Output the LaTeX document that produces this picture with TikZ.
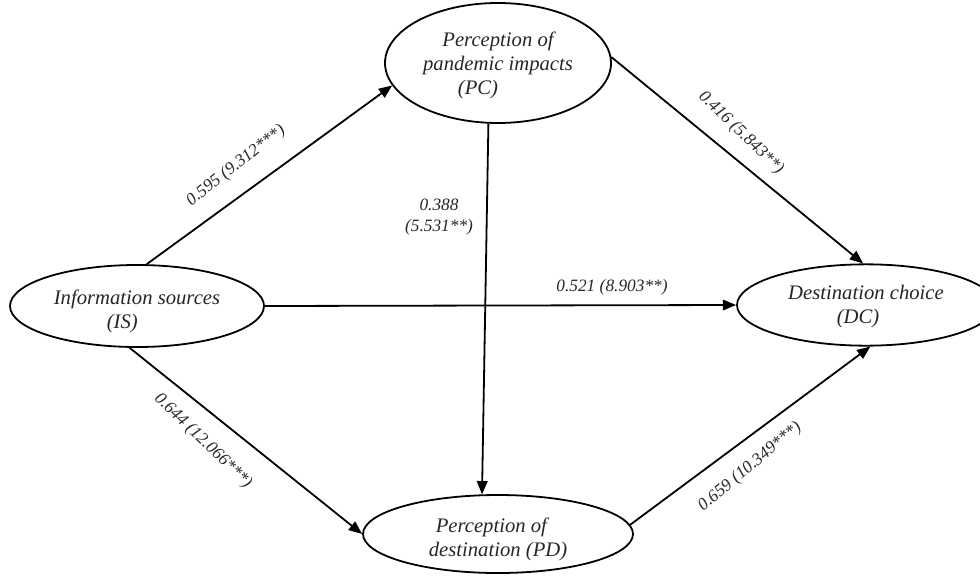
\documentclass[tikz,border=0pt]{standalone}
\usepackage{fontspec}
\setmainfont{Liberation Serif}
\usetikzlibrary{shapes.geometric,arrows.meta}
\begin{document}
\begin{tikzpicture}[x=0.75pt,y=-0.75pt,
  var/.style={draw, ellipse, line width=1.35pt, inner sep=0pt},
  vtext/.style={font=\fontsize{15.5}{18}\selectfont\itshape, align=center, text=black!85, inner sep=0pt},
  elabel/.style={font=\fontsize{13}{16}\selectfont\itshape, text=black!85, inner sep=0pt},
  arr/.style={line width=1.35pt, -{Triangle[length=10pt,width=8pt]}}]
\clip (0,0) rectangle (980,575);
\node[var, minimum width=190.5pt, minimum height=61.5pt,
  label={[vtext,yshift=-4pt]center:{Information sources\\(IS)\hspace*{22pt}}}] (IS) at (137,306) {};
\node[var, minimum width=169.5pt, minimum height=90pt,
  label={[vtext,yshift=-2pt]center:{Perception of\\pandemic impacts\\(PC)\hspace*{30pt}}}] (PC) at (498,63) {};
\node[var, minimum width=193.5pt, minimum height=61pt,
  label={[vtext,yshift=-1pt]center:{Destination choice\\(DC)\hspace*{12pt}}}] (DC) at (866,305) {};
\node[var, minimum width=202.5pt, minimum height=58.5pt,
  label={[vtext,yshift=-4pt]center:{Perception of\hspace*{10pt}\\destination (PD)}}] (PD) at (498,534) {};
\draw[arr] (IS.77) -- (PC.192);
\draw[arr] (IS.east) -- (DC.west);
\draw[arr] (IS.-100) -- (PD.west);
\draw[arr] (PC.-99) -- (PD.112);
\draw[arr] (PC.3) -- (DC.94);
\draw[arr] (PD.4) -- (DC.-84);
\node[elabel, rotate=38] (l1) at (236,166) {0.595 (9.312***)};
\node[elabel, align=center] (l2) at (439,217) {0.388\\(5.531**)};
\node[elabel, rotate=-44] (l3) at (741,133) {0.416 (5.843**)};
\node[elabel] (l4) at (612,287) {0.521 (8.903**)};
\node[elabel, rotate=-44] (l5) at (203,441) {0.644 (12.066***)};
\node[elabel, rotate=40] (l6) at (750,467) {0.659 (10.349***)};
\end{tikzpicture}
\end{document}
